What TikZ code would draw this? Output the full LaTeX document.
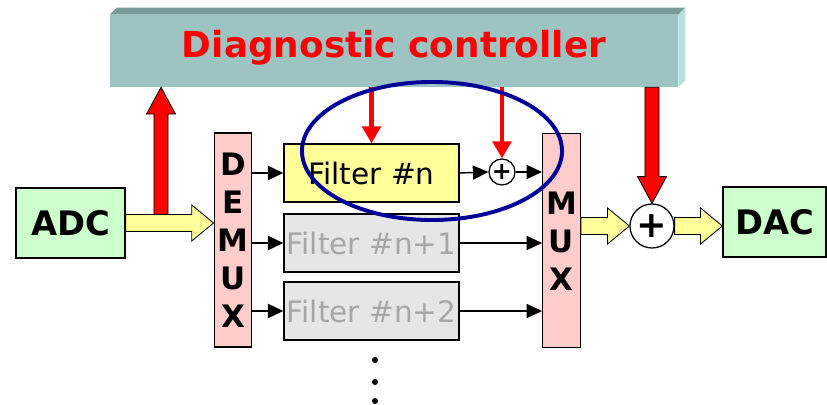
\documentclass[tikz,border=0pt]{standalone}
\usepackage{fontspec}
\setmainfont{DejaVu Sans}
\usetikzlibrary{calc,positioning,arrows.meta}

\definecolor{ctrlfront}{HTML}{9DC3C2}
\definecolor{ctrltop}{HTML}{7A9B99}
\definecolor{ctrlside}{HTML}{B4E0E0}
\definecolor{convgreen}{HTML}{CCFFCC}
\definecolor{muxpink}{HTML}{FFCCCC}
\definecolor{filtyellow}{HTML}{FFFF99}
\definecolor{filtgray}{HTML}{E6E6E6}
\definecolor{filttext}{HTML}{A6A6A6}
\definecolor{ringblue}{HTML}{000099}

% fat arrow pointing right, drawn at the height of the start point
\newcommand{\hfat}[3]{%
  \draw[#1] let \p1=(#2), \p2=(#3) in
    (\x1,\y1+6pt) -- (\x2-15.5pt,\y1+6pt) -- (\x2-15.5pt,\y1+12.8pt) -- (\x2,\y1)
    -- (\x2-15.5pt,\y1-12.8pt) -- (\x2-15.5pt,\y1-6pt) -- (\x1,\y1-6pt) -- cycle;}
% fat arrow pointing up or down
\newcommand{\vfat}[3]{%
  \draw[#1] let \p1=(#2), \p2=(#3), \n1={ifthenelse(\y1>\y2,19pt,-19pt)} in
    (\x1-5pt,\y1) -- (\x1-5pt,\y2+\n1) -- (\x1-10.3pt,\y2+\n1) -- (\x1,\y2)
    -- (\x1+10.3pt,\y2+\n1) -- (\x1+5pt,\y2+\n1) -- (\x1+5pt,\y1) -- cycle;}

\tikzset{
  blk/.style={draw,line width=0.9pt,inner sep=0pt},
  conv/.style={blk,fill=convgreen,minimum height=1.75cm,font=\bfseries\fontsize{24}{28}\selectfont},
  muxbox/.style={blk,fill=muxpink,minimum width=0.94cm,minimum height=5.35cm},
  muxtext/.style={align=center,font=\bfseries\fontsize{22}{27}\selectfont},
  filt/.style={blk,minimum width=4.375cm,minimum height=1.45cm,font=\fontsize{21}{24}\selectfont},
  adder/.style={draw,circle,line width=0.9pt,fill=white,inner sep=0pt},
  sig/.style={line width=1.6pt,-{Triangle[length=11pt,width=10pt]}},
  redsig/.style={red,line width=3pt,-{Triangle[length=12pt,width=13pt]}},
  yfat/.style={fill=filtyellow,draw,line width=0.6pt},
  rfat/.style={fill=red,draw,line width=0.6pt}
}

\begin{document}
\begin{tikzpicture}[x=0.025cm,y=-0.025cm]
\useasboundingbox (0,0) rectangle (827,405);

% controller block
\node[fill=ctrlfront,minimum width=14.2cm,minimum height=1.8cm,inner sep=0pt] (ctrl) at (394,51) {};
\fill[ctrltop] (ctrl.north west) -- ++(7,-7) -- ($(ctrl.north east)+(7,-7)$) -- (ctrl.north east) -- cycle;
\fill[ctrlside] (ctrl.north east) -- ++(7,-7) -- ($(ctrl.south east)+(7,-7)$) -- (ctrl.south east) -- cycle;
\node[text=red,font=\bfseries\fontsize{25.5}{30}\selectfont] (ctrltxt) at (394,48) {Diagnostic controller};

% converters, mux and filters
\node[conv,minimum width=2.725cm] (adc) at (70.5,223) {ADC};
\node[conv,minimum width=2.575cm] (dac) at (774.5,222) {DAC};
\node[muxbox] (demux) at (233,240) {};
\node[muxtext] (demuxtxt) at (demux.center) {D\\E\\M\\U\\X};
\node[muxbox] (mux) at (561.5,240.5) {};
\node[muxtext] (muxtxt) at (561.5,241) {M\\U\\X};
\node[filt,fill=filtyellow] (f0) at (371.5,173) {Filter \#n};
\node[filt,fill=filtgray,text=filttext] (f1) at (371.5,243) {Filter \#n+1};
\node[filt,fill=filtgray,text=filttext] (f2) at (371.5,311) {Filter \#n+2};
\node[adder,minimum size=0.65cm,font=\bfseries\fontsize{17}{17}\selectfont] (sadd) at (502,172) {+};
\node[adder,minimum size=1.1cm,font=\bfseries\fontsize{26}{26}\selectfont] (badd) at (652,226) {+};
\coordinate (upfoot) at (161,216);

% control paths
\vfat{rfat}{upfoot}{upfoot |- ctrl.south}
\vfat{rfat}{ctrl.south -| badd.north}{badd.north}
\draw[redsig] (ctrl.south -| f0.north) -- (f0.north);
\draw[redsig] (ctrl.south -| sadd.north) -- (sadd.north);

% data paths
\hfat{yfat}{adc.east}{demux.west}
\hfat{yfat}{mux.east |- badd.west}{badd.west}
\hfat{yfat}{badd.east}{dac.west}
\draw[sig] (demux.east |- f0.west) -- (f0.west);
\draw[sig] (demux.east |- f1.west) -- (f1.west);
\draw[sig] (demux.east |- f2.west) -- (f2.west);
\draw[sig,line width=1pt] (f0.east) -- (sadd.west);
\draw[sig,line width=1pt] (sadd.east) -- (sadd.east -| mux.west);
\draw[sig,line width=1pt] (f1.east) -- (f1.east -| mux.west);
\draw[sig,line width=1pt] (f2.east) -- (f2.east -| mux.west);

% more filters
\fill (375,360) circle (3);
\fill (375,382) circle (3);
\fill (375,401) circle (3);

% highlighted part
\draw[ringblue,line width=2.8pt] (432,151) ellipse [x radius=3.25cm,y radius=1.725cm];
\end{tikzpicture}
\end{document}
